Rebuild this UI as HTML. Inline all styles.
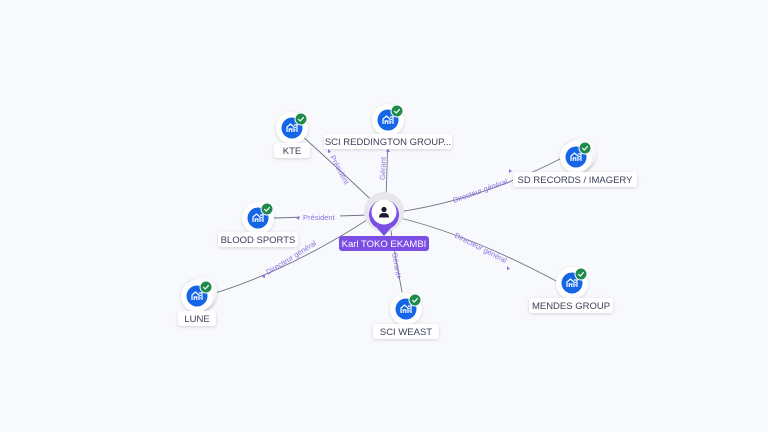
<!DOCTYPE html>
<html><head><meta charset="utf-8"><style>
html,body{margin:0;padding:0;background:#f8f9fc;}
svg{display:block;font-family:"Liberation Sans",sans-serif;}
.lbl{font-size:9.5px;fill:#3b3f58;}
.el{font-size:7.5px;fill:#8a73e0;}
</style></head><body>
<svg width="768" height="432" viewBox="0 0 768 432">
<defs>
<filter id="sh" x="-50%" y="-50%" width="200%" height="200%"><feDropShadow dx="0" dy="1" stdDeviation="1.5" flood-color="#000" flood-opacity="0.15"/></filter>
<g id="node">
<circle r="16" fill="#fff" filter="url(#sh)"/>
<circle r="10.5" fill="#1566e6"/>
<path d="M-5,4 V-1 L-1.5,-4 L2,-1 V4 M-2.8,4 V1 H-0.2 V4 M2,-3 H5 V4 M3.5,-1 V0 M3.5,1.5 V2.5" stroke="#fff" stroke-width="1.2" fill="none"/>
<circle cx="9" cy="-9" r="6" fill="#1e8a4c" stroke="#fff" stroke-width="1"/>
<path d="M6.3,-9 L8.3,-7 L11.7,-10.8" stroke="#fff" stroke-width="1.2" fill="none"/>
</g>
<g id="stack"><circle cx="4" cy="-3" r="16" fill="#fff" filter="url(#sh)"/><circle cx="2" cy="-1.5" r="16" fill="#fff" filter="url(#sh)"/></g>
</defs>
<g stroke="#70738a" stroke-width="0.9" fill="none">
<path d="M384,212 Q340,170 300,134"/>
<path d="M386,200 L388,136"/>
<path d="M398,212 Q480,200 562,158"/>
<path d="M370,215 L274,218"/>
<path d="M370,218 Q290,270 212,294"/>
<path d="M400,218 Q470,235 558,282"/>
<path d="M390,226 L402,292"/>
</g>
<g fill="#8a73e0">
<path d="M331,152 l-3,-3 l0,4z"/>
<path d="M388,149 l-2,3 h4z"/>
<path d="M512,171 l-3,-2 l0,4z"/>
<path d="M296,218 l3,-2 v4z"/>
<path d="M262,277 l3,-3 l0,4z"/>
<path d="M510,269 l-3,-3 l0,4z"/>
<path d="M399,279 l-2,-3 h4z"/>
</g>
<g class="el">
<rect x="300" y="213" width="40" height="9" fill="#f8f9fc"/>
<text x="303" y="220">Président</text>
<text transform="translate(330,157) rotate(62)">Président</text>
<text transform="translate(385,180) rotate(-88)">Gérant</text>
<text transform="translate(454,203) rotate(-20)">Directeur général</text>
<text transform="translate(268,275) rotate(-32)">Directeur général</text>
<text transform="translate(454,237) rotate(27)">Directeur général</text>
<text transform="translate(392,253) rotate(80)">Gérant</text>
</g>
<circle cx="384" cy="212" r="20" fill="#e6e6ec"/>
<path d="M384,236 l-7,-8 a15,15 0 1 1 14,0 z" fill="#7b4fe6"/>
<circle cx="384" cy="212" r="12.5" fill="#fff"/>
<circle cx="384" cy="209.5" r="2.6" fill="#1b1d2e"/>
<path d="M379,217.5 q0,-4.5 5,-4.5 q5,0 5,4.5 z" fill="#1b1d2e"/>
<rect x="339" y="236" width="90" height="15" rx="3" fill="#7b4fe6"/>
<text x="384" y="247" text-anchor="middle" style="font-size:9.5px;fill:#fff">Karl TOKO EKAMBI</text>
<use href="#node" x="292" y="128"/>
<use href="#node" x="388" y="120"/>
<use href="#stack" x="576" y="157"/><use href="#node" x="576" y="157"/>
<use href="#node" x="258" y="218"/>
<use href="#stack" x="197" y="296"/><use href="#node" x="197" y="296"/>
<use href="#node" x="406" y="309"/>
<use href="#node" x="572" y="283"/>
<g filter="url(#sh)" fill="#fff">
<rect x="274" y="143" width="36" height="15" rx="3"/>
<rect x="324" y="134" width="128" height="15" rx="3"/>
<rect x="513" y="172" width="124" height="15" rx="3"/>
<rect x="218" y="232" width="80" height="15" rx="3"/>
<rect x="178" y="311" width="38" height="15" rx="3"/>
<rect x="373" y="324" width="66" height="15" rx="3"/>
<rect x="529" y="298" width="84" height="15" rx="3"/>
</g>
<g class="lbl" text-anchor="middle">
<text x="292" y="154">KTE</text>
<text x="388" y="145">SCI REDDINGTON GROUP...</text>
<text x="575" y="183">SD RECORDS / IMAGERY</text>
<text x="258" y="243">BLOOD SPORTS</text>
<text x="197" y="322">LUNE</text>
<text x="406" y="335">SCI WEAST</text>
<text x="571" y="309">MENDES GROUP</text>
</g>
</svg>
</body></html>
